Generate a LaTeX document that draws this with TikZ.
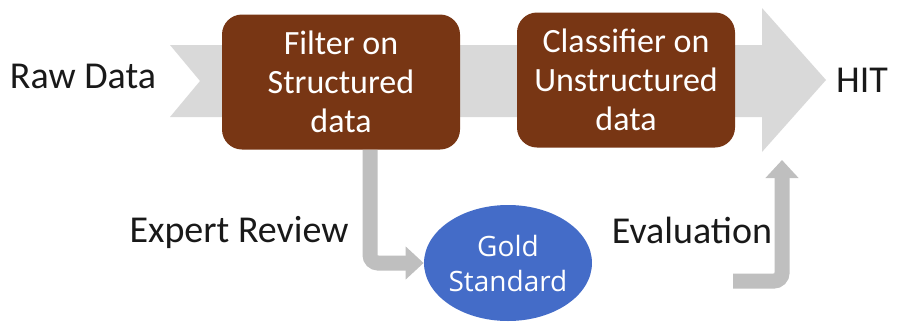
\documentclass[tikz,border=0pt]{standalone}
\usepackage{fontspec}
\setmainfont{Carlito}
\newfontfamily\goldfont{Open Sans}
\usetikzlibrary{arrows.meta,shapes.geometric}
\definecolor{boxbrown}{RGB}{120,54,20}
\definecolor{goldblue}{RGB}{68,108,200}
\definecolor{flowgray}{RGB}{217,217,217}
\definecolor{bendgray}{RGB}{191,191,191}
\tikzset{
  box/.style={fill=boxbrown, text=white, rounded corners=10pt, minimum height=67.5pt,
    align=center, inner sep=2pt, font=\fontsize{17}{19.5}\selectfont},
  tag/.style={text=black!90, font=\fontsize{19}{22}\selectfont},
  bendarrow/.style={draw=bendgray, line width=7.5pt, rounded corners=4pt,
    -{Triangle[width=16pt,length=9pt]}}
}
\begin{document}
\begin{tikzpicture}[x=0.5pt,y=-0.5pt]
\useasboundingbox (0,0) rectangle (903,322);
% main flow arrow
\fill[flowgray] (170,45) -- (762,45) -- (762,8) -- (826,80) -- (762,152)
  -- (762,117) -- (170,117) -- (200,81) -- cycle;
\node (raw)[tag] at (83,76) {Raw Data};
\node (filter)[box, minimum width=119pt] at (341,82) {Filter on\\Structured\\data};
\node (classifier)[box, minimum width=109pt] at (626,80) {Classifier on\\Unstructured\\data};
\node (hit)[tag] at (862,80) {HIT};
\node (gold)[ellipse, fill=goldblue, text=white, minimum width=83pt, minimum height=58pt,
  align=center, inner sep=0pt, font=\goldfont\fontsize{14}{17.5}\selectfont] at (508,263) {Gold\\Standard};
\node (expert)[tag] at (239,232) {Expert Review};
\node (eval)[tag] at (692,230) {Evaluation};
\coordinate (evalstart) at (733,281);
\coordinate (evalend) at (782,160);
\draw[bendarrow] ([xshift=14.5pt]filter.south) |- (gold.west);
\draw[bendarrow] (evalstart) -| (evalend);
\end{tikzpicture}
\end{document}
